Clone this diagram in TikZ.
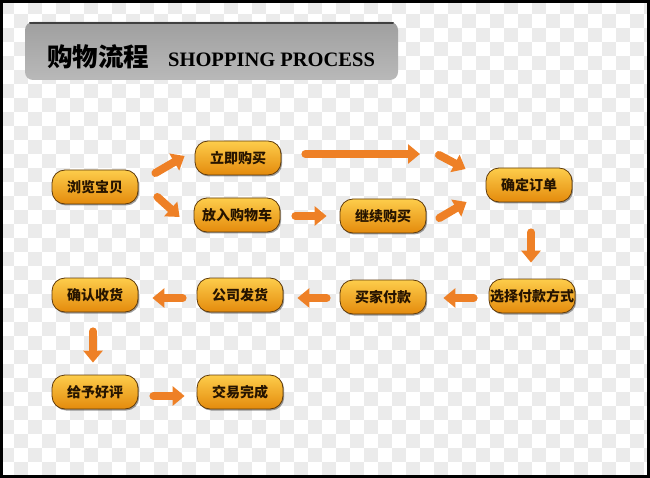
\documentclass[tikz,border=0pt]{standalone}
\usepackage{fontspec}
\newfontfamily\cjk{Noto Sans CJK SC}
\newfontfamily\titleserif{Liberation Serif}
\usetikzlibrary{arrows.meta,shadows}
\definecolor{boxtop}{RGB}{253,205,75}
\definecolor{boxbot}{RGB}{228,138,12}
\definecolor{boxline}{RGB}{95,58,10}
\definecolor{flowcol}{RGB}{238,128,38}
\definecolor{chk}{RGB}{235,235,235}
\definecolor{textbrown}{RGB}{38,20,0}

\begin{document}
\begin{tikzpicture}[x=1pt,y=-1pt,
    procbox/.style={rounded corners=13pt,draw=boxline,line width=.8pt,
      top color=boxtop,bottom color=boxbot,minimum width=86pt,minimum height=34pt,
      inner sep=0pt,text=textbrown,font=\cjk\bfseries\fontsize{14}{15}\selectfont,
      drop shadow={shadow xshift=1.2pt,shadow yshift=-1.5pt,opacity=.55,fill=black!70}},
    flowarrow/.style={draw=flowcol,line width=8pt,line cap=round,
      -{Triangle[length=12pt,width=19pt]}}]
  \useasboundingbox (0,0) rectangle (650,478);
  % checker background
  \foreach \i in {0,...,46}
    \foreach \j in {0,...,34}{
      \pgfmathtruncatemacro\k{mod(\i+\j,2)}
      \ifnum\k=0 \fill[chk] (\i*14,\j*14) rectangle ++(14,14); \fi
    }
  \draw[black,line width=3pt] (1.5,1.5) rectangle (648.5,476.5);
  % title banner
  \shade[rounded corners=8pt,top color=gray!75,middle color=gray!25,bottom color=gray!55]
    (25,22) rectangle (398,80);
  \draw[black!75,line width=2pt,line cap=round] (30,23) -- (393,23);
  \node[anchor=west,inner sep=0pt] (title) at (47,57)
    {\cjk\bfseries\fontsize{25.5}{26}\selectfont 购物流程\hspace{19pt}{\titleserif\bfseries\fontsize{20.5}{21}\selectfont SHOPPING PROCESS}};
  \begin{scope}[every node/.style={procbox}]
    \node (v1) at (95,187) {浏览宝贝};
    \node (v2) at (238,158) {立即购买};
    \node (v3) at (237,215) {放入购物车};
    \node (v4) at (383,216) {继续购买};
    \node (v5) at (529,185) {确定订单};
    \node (v6) at (532,296) {选择付款方式};
    \node (v7) at (383,297) {买家付款};
    \node (v8) at (240,295) {公司发货};
    \node (v9) at (95,295) {确认收货};
    \node (v10) at (95,392) {给予好评};
    \node (v11) at (240,392) {交易完成};
  \end{scope}
  \coordinate (m1) at (430,154);
  \begin{scope}[every path/.style={flowarrow}]
    \draw ([shift={(17,-14)}]v1.east) -- ([shift={(-10,-2)}]v2.west);
    \draw ([shift={(19,10)}]v1.east) -- ([shift={(-14,2)}]v3.west);
    \draw ([shift={(24,-4)}]v2.east) -- ([xshift=-10pt]m1);
    \draw ([shift={(9,1)}]m1) -- ([shift={(-20,-16)}]v5.west);
    \draw ([shift={(15,1)}]v3.east) -- ([shift={(-13,0)}]v4.west);
    \draw ([shift={(13,2)}]v4.east) -- ([shift={(-19,17)}]v5.west);
    \draw ([shift={(2,30)}]v5.south) -- ([shift={(-1,-16)}]v6.north);
    \draw ([shift={(-15,2)}]v6.west) -- ([shift={(17,1)}]v7.east);
    \draw ([shift={(-13,1)}]v7.west) -- ([shift={(14,3)}]v8.east);
    \draw ([shift={(-14,3)}]v8.west) -- ([shift={(14,3)}]v9.east);
    \draw ([shift={(-2,19)}]v9.south) -- ([shift={(-2,-12)}]v10.north);
    \draw ([shift={(15,4)}]v10.east) -- ([shift={(-12,4)}]v11.west);
  \end{scope}
\end{tikzpicture}
\end{document}
